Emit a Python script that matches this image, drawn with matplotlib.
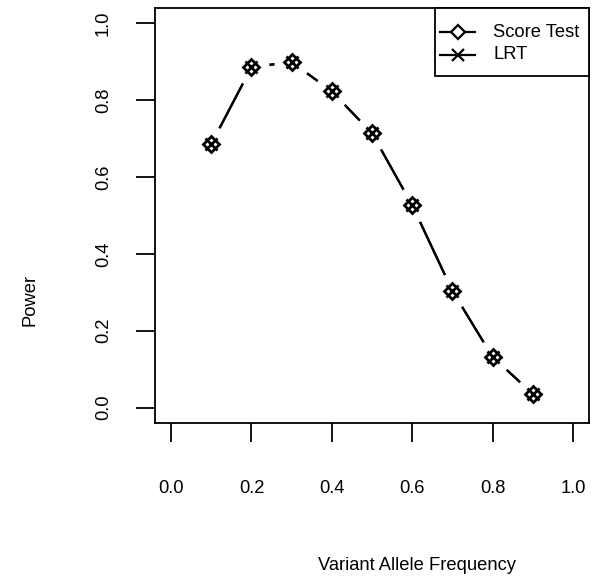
import numpy as np
import matplotlib
matplotlib.use("Agg")
import matplotlib.pyplot as plt
from matplotlib.lines import Line2D
from matplotlib.patches import Rectangle

plt.rcParams["font.family"] = ["Liberation Sans", "DejaVu Sans"]

# power by variant allele frequency, both tests
freq = [0.1, 0.2, 0.3, 0.4, 0.5, 0.6, 0.7, 0.8, 0.9]
score_power = [0.686, 0.886, 0.899, 0.823, 0.714, 0.527, 0.304, 0.132, 0.036]
lrt_power = [0.686, 0.886, 0.900, 0.823, 0.714, 0.527, 0.304, 0.132, 0.036]
xticks = [0.0, 0.2, 0.4, 0.6, 0.8, 1.0]
yticks = [0.0, 0.2, 0.4, 0.6, 0.8, 1.0]
labels = ["Score Test", "LRT"]

fs = 13.2
fig = plt.figure(figsize=(5.98, 5.78), dpi=100)
ax = fig.add_axes([155 / 598, 1 - 423 / 578, 434 / 598, 415 / 578])

# type="b" style: lines broken around each point
ax.plot(freq, score_power, color="black", lw=1.6, zorder=1)
ax.plot(freq, lrt_power, color="black", lw=1.6, zorder=1)
ax.plot(freq, score_power, ls="none", marker="o", ms=26, mfc="white", mec="none", zorder=2)
ax.plot(freq, score_power, ls="none", marker="D", ms=8, mfc="none", mec="black", mew=2.0, zorder=3)
ax.plot(freq, lrt_power, ls="none", marker="x", ms=9, mec="black", mew=2.0, zorder=3)

ax.set_xlim(-0.04, 1.04)
ax.set_ylim(-0.04, 1.04)
ax.set_xticks(xticks)
ax.set_yticks(yticks)
ax.set_xticklabels([f"{v:.1f}" for v in xticks])
ax.set_yticklabels([f"{v:.1f}" for v in yticks], rotation=90, va="center")
ax.tick_params(length=14, width=1.3, labelsize=fs)
ax.tick_params(axis="x", pad=27)
ax.tick_params(axis="y", pad=17)
for s in ax.spines.values():
    s.set_linewidth(1.3)

fig.text(417 / 598, 1 - 565 / 578, "Variant Allele Frequency", fontsize=fs, ha="center", va="center")
fig.text(30 / 598, 1 - 300 / 578, "Power", fontsize=fs, ha="center", va="center", rotation=90)

# legend box in the top-right corner
ax.add_patch(Rectangle((0.645, 0.836), 0.355, 0.164, transform=ax.transAxes,
                       facecolor="white", edgecolor="black", lw=1.3, zorder=5, clip_on=False))
for lab, mk, ms, yy in [(labels[0], "D", 7, 0.942), (labels[1], "x", 8, 0.887)]:
    ax.add_line(Line2D([0.657, 0.737], [yy, yy], transform=ax.transAxes, color="black",
                       lw=1.6, zorder=6, clip_on=False))
    ax.add_line(Line2D([0.698], [yy], transform=ax.transAxes, ls="none", marker=mk, ms=ms,
                       mfc="white", mec="black", mew=1.6, zorder=7, clip_on=False))
    ax.text(0.779, yy, lab, transform=ax.transAxes, fontsize=fs, va="center", ha="left", zorder=7)

fig.savefig("out.png", dpi=100)
